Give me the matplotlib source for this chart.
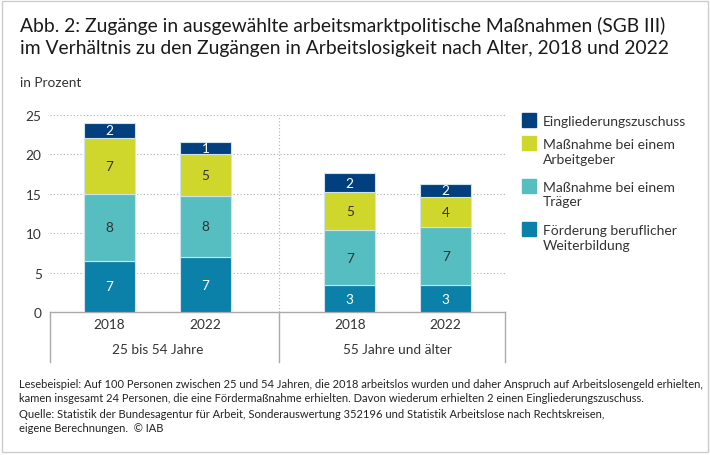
import matplotlib.pyplot as plt
from matplotlib.patches import Rectangle
from matplotlib.transforms import blended_transform_factory

plt.rcParams['font.family'] = ['Lato', 'DejaVu Sans']

# data
years = ['2018', '2022', '2018', '2022']
groups = ['25 bis 54 Jahre', '55 Jahre und älter']
foerderung = [6.55, 7.0, 3.4, 3.45]
traeger = [8.4, 7.8, 7.0, 7.3]
arbeitgeber = [7.1, 5.3, 4.8, 3.9]
ezs = [2.0, 1.45, 2.45, 1.6]

series = [
    ('Förderung beruflicher\nWeiterbildung', foerderung, '#0b80a8', 'white'),
    ('Maßnahme bei einem\nTräger', traeger, '#56bdc0', '#333333'),
    ('Maßnahme bei einem\nArbeitgeber', arbeitgeber, '#cfd72c', '#333333'),
    ('Eingliederungszuschuss', ezs, '#023f7e', 'white'),
]

xpos = [0, 1, 2.5, 3.5]
group_x = [0.5, 3.0]
sep_x = 1.76
FS = 9.8

fig = plt.figure(figsize=(7.1, 4.56), dpi=100)
ax = fig.add_axes([0.0704, 0.3129, 0.6413, 0.4327])

bottom = [0.0] * 4
for name, vals, col, tcol in series:
    ax.bar(xpos, vals, width=0.53, bottom=bottom, color=col,
           edgecolor='#cfe3ec', linewidth=0.8, zorder=3)
    for x, b, v in zip(xpos, bottom, vals):
        ax.text(x, b + v / 2, str(int(v + 0.5)), ha='center', va='center',
                fontsize=FS, color=tcol, zorder=4)
    bottom = [b + v for b, v in zip(bottom, vals)]

ax.set_xlim(-0.62, 4.12)
ax.set_ylim(0, 25)
ax.set_yticks([0, 5, 10, 15, 20, 25])
ax.tick_params(axis='y', length=0, labelsize=FS, labelcolor='#333333', pad=6)
ax.set_xticks([])
for s in ['top', 'right', 'left']:
    ax.spines[s].set_visible(False)
ax.spines['bottom'].set_color('#aaaaaa')
ax.spines['bottom'].set_linewidth(1)
for y in [5, 10, 15, 20, 25]:
    ax.axhline(y, color='#b0b0b0', lw=0.8, ls=(0, (1, 2)), zorder=1)
ax.plot([sep_x, sep_x], [0, 25], color='#b0b0b0', lw=0.8, ls=(0, (1, 2)), zorder=1)

# category table below the axis
tr = blended_transform_factory(ax.transData, ax.transAxes)
for x in [-0.62, sep_x, 4.12]:
    ax.plot([x, x], [0, -0.253], transform=tr, color='#aaaaaa', lw=1, clip_on=False)
for x, yr in zip(xpos, years):
    ax.text(x, -0.06, yr, transform=tr, ha='center', va='center',
            fontsize=FS, color='#333333')
for x, g in zip(group_x, groups):
    ax.text(x, -0.188, g, transform=tr, ha='center', va='center',
            fontsize=FS, color='#333333')

# legend
W, H = 710, 456
leg_y = [121, 144, 187, 230]
for (name, vals, col, tcol), y in zip(reversed(series), leg_y):
    fig.patches.append(Rectangle((522 / W, 1 - (y + 7) / H), 14 / W, 14 / H,
                                 transform=fig.transFigure, color=col))
    fig.text(543 / W, 1 - (y - 5) / H, name, ha='left', va='top',
             fontsize=10, color='#333333', linespacing=1.25)

# title and notes
fig.text(20 / W, 1 - 26 / H,
         'Abb. 2: Zugänge in ausgewählte arbeitsmarktpolitische Maßnahmen (SGB III)',
         fontsize=13.9, color='#1a1a1a', va='center')
fig.text(20 / W, 1 - 49 / H,
         'im Verhältnis zu den Zugängen in Arbeitslosigkeit nach Alter, 2018 und 2022',
         fontsize=13.9, color='#1a1a1a', va='center')
fig.text(20 / W, 1 - 83 / H, 'in Prozent', fontsize=FS, color='#333333', va='center')

fig.text(19 / W, 1 - 385 / H,
         'Lesebeispiel: Auf 100 Personen zwischen 25 und 54 Jahren, die 2018 arbeitslos wurden '
         'und daher Anspruch auf Arbeitslosengeld erhielten,',
         fontsize=8.05, color='#222222', va='center')
fig.text(19 / W, 1 - 399 / H,
         'kamen insgesamt 24 Personen, die eine Fördermaßnahme erhielten. '
         'Davon wiederum erhielten 2 einen Eingliederungszuschuss.',
         fontsize=8.05, color='#222222', va='center')
fig.text(19 / W, 1 - 414 / H,
         'Quelle: Statistik der Bundesagentur für Arbeit, Sonderauswertung 352196 '
         'und Statistik Arbeitslose nach Rechtskreisen,',
         fontsize=8.05, color='#222222', va='center')
fig.text(19 / W, 1 - 429 / H, 'eigene Berechnungen.  © IAB',
         fontsize=8.05, color='#222222', va='center')

# outer frame
fig.patches.append(Rectangle((2 / W, 3 / H), 706 / W, 451 / H, transform=fig.transFigure,
                             fill=False, edgecolor='#cccccc', lw=1))

fig.savefig('out.png', dpi=100)
